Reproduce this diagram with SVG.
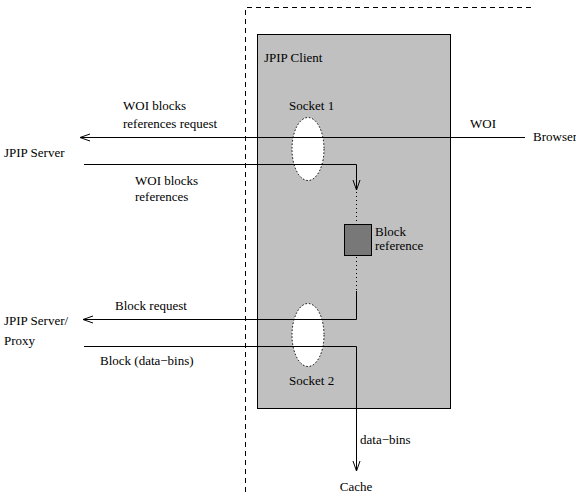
<svg xmlns="http://www.w3.org/2000/svg" width="576" height="496" viewBox="0 0 576 496" font-family="'Liberation Serif', 'Times New Roman', Times, serif" font-size="13">
<defs>
<marker id="arr" markerWidth="12" markerHeight="10" refX="11" refY="5" orient="auto" markerUnits="userSpaceOnUse">
<path d="M1,1.5 L11,5 L1,8.5" fill="none" stroke="#000" stroke-width="1"/>
</marker>
</defs>
<style>
text{font-family:'Liberation Serif','Times New Roman',Times,serif;font-size:13px;fill:#000}
.ln{fill:none;stroke:#000;stroke-width:1}
.dash{fill:none;stroke:#000;stroke-width:1;stroke-dasharray:5,4}
.dot{fill:none;stroke:#000;stroke-width:1;stroke-dasharray:1,3}
.sock{fill:#fff;stroke:#000;stroke-width:1;stroke-dasharray:1.5,2}
</style>
<rect width="576" height="496" fill="#fff"/>
<g id="boundary">
<path class="dash" d="M245.5,492 V7.5 H533"/>
</g>
<g id="client">
<rect x="257.5" y="34.5" width="193" height="374" fill="#c0c0c0" stroke="#000"/>
<text x="264" y="62">JPIP Client</text>
</g>
<g id="socket1">
<ellipse class="sock" cx="308" cy="149" rx="16" ry="31.5"/>
<text x="289" y="110">Socket 1</text>
</g>
<g id="socket2">
<ellipse class="sock" cx="308" cy="335" rx="16" ry="31.5"/>
<text x="289" y="385">Socket 2</text>
</g>
<g id="blockref">
<rect x="344.5" y="224.5" width="27" height="31" fill="#787878" stroke="#000"/>
<text x="375" y="236">Block</text>
<text x="375" y="250">reference</text>
</g>
<g id="server">
<text x="4" y="157">JPIP Server</text>
</g>
<g id="proxy">
<text x="4" y="325">JPIP Server/</text>
<text x="4" y="345">Proxy</text>
</g>
<g id="browser">
<text x="533" y="141">Browser</text>
</g>
<g id="cache">
<text x="356" y="491" text-anchor="middle">Cache</text>
</g>
<g id="connectors">
<path class="ln" d="M525,137.5 H80" marker-end="url(#arr)"/>
<path class="ln" d="M84,164.5 H356.5 V190" marker-end="url(#arr)"/>
<path class="dot" d="M356.5,192 V223"/>
<path class="dot" d="M356.5,257 V291"/>
<path class="ln" d="M356.5,291 V319.5 H83" marker-end="url(#arr)"/>
<path class="ln" d="M84,346.5 H356.5 V471" marker-end="url(#arr)"/>
<text x="123" y="110">WOI blocks</text>
<text x="123" y="128">references request</text>
<text x="470" y="128">WOI</text>
<text x="135" y="185">WOI blocks</text>
<text x="135" y="201">references</text>
<text x="115" y="310">Block request</text>
<text x="100" y="365">Block (data−bins)</text>
<text x="360" y="444">data−bins</text>
</g>
</svg>
